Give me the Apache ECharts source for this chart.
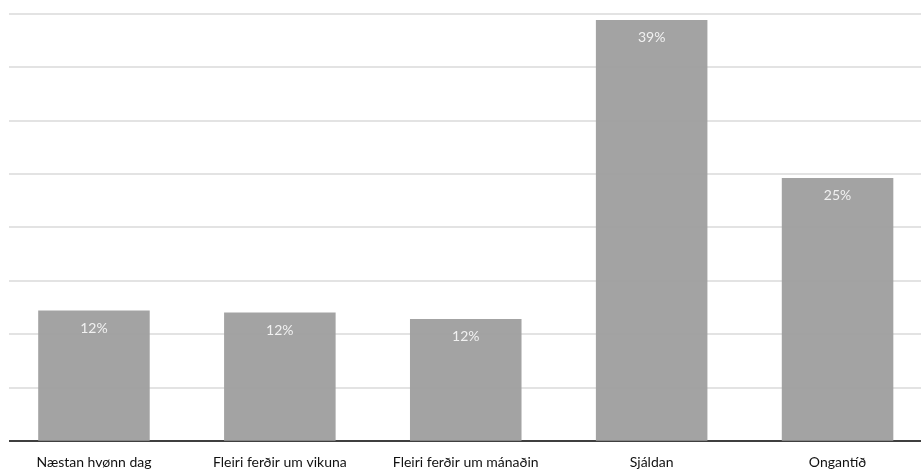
<!DOCTYPE html>
<html>
<head>
<meta charset="utf-8">
<script src="https://cdn.jsdelivr.net/npm/echarts@6/dist/echarts.min.js"></script>
<style>html,body{margin:0;padding:0;background:#fff;overflow:hidden;width:921px;height:470px}#c{width:931px;height:470px}</style>
</head>
<body>
<div id="c"></div>
<script>
const categories = ["Næstan hvønn dag", "Fleiri ferðir um vikuna", "Fleiri ferðir um mánaðin", "Sjáldan", "Ongantíð"];
const values = [12.2, 12.0, 11.4, 39.4, 24.6];
const valueLabels = ["12%", "12%", "12%", "39%", "25%"];
const yMin = 0, yMax = 40, yStep = 5;

const chart = echarts.init(document.getElementById('c'));
chart.setOption({
  animation: false,
  backgroundColor: '#fff',
  grid: { left: 1, right: 0.5, top: 13.5, bottom: 29.3, containLabel: false },
  xAxis: {
    type: 'category',
    data: categories,
    boundaryGap: true,
    axisLine: { show: true, lineStyle: { color: '#3f3f3f', width: 2 } },
    axisTick: { show: false },
    axisLabel: { color: '#111', fontFamily: 'Lato', fontSize: 14, margin: 15, interval: 0 }
  },
  yAxis: {
    type: 'value',
    min: yMin, max: yMax, interval: yStep,
    axisLabel: { show: false },
    axisLine: { show: false },
    axisTick: { show: false },
    splitLine: { show: true, lineStyle: { color: '#dadada', width: 1.6 } }
  },
  graphic: [{
    type: 'rect', left: 0, top: 0, z: 100,
    shape: { width: 9, height: 446 },
    style: { fill: '#fff' }
  }],
  series: [{
    type: 'bar',
    data: values,
    barCategoryGap: '40%',
    itemStyle: { color: '#a0a0a0', opacity: 0.97 },
    label: {
      show: true,
      position: 'insideTop',
      distance: 11,
      color: '#f4f4f4',
      fontFamily: 'Lato',
      fontSize: 14,
      formatter: p => valueLabels[p.dataIndex]
    }
  }]
});
</script>
</body>
</html>
